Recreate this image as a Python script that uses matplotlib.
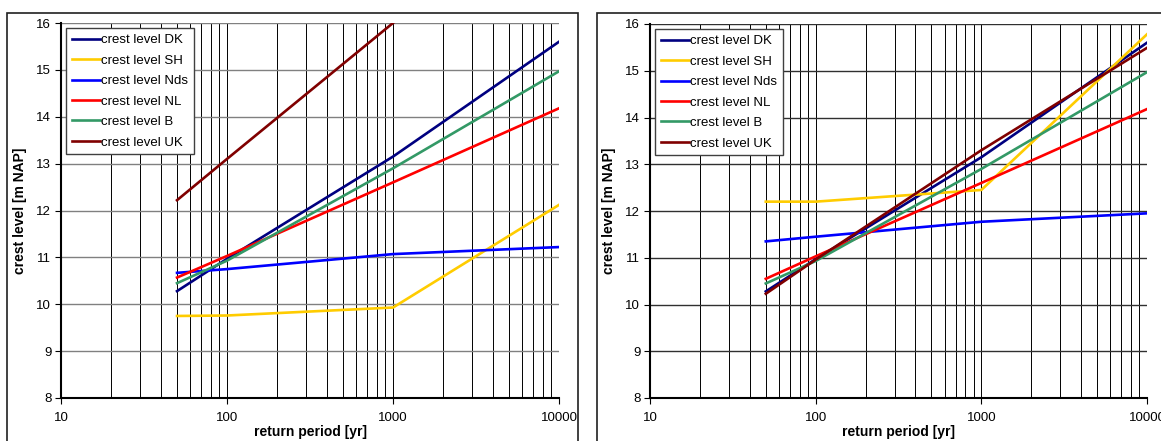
import matplotlib.pyplot as plt
from matplotlib.patches import Rectangle
from matplotlib.ticker import LogLocator, FixedLocator, NullFormatter

plt.rcParams['font.family'] = ['Liberation Sans', 'DejaVu Sans']

# return periods [yr]
periods = [50, 100, 1000, 10000]

# left panel
left_dk = [10.28, 10.97, 13.15, 15.6]
left_sh = [9.75, 9.76, 9.93, 12.12]
left_nds = [10.67, 10.75, 11.07, 11.22]
left_nl = [10.57, 11.03, 12.6, 14.18]
left_b = [10.45, 10.93, 12.9, 14.97]
left_uk = [12.22, 13.1, 16.0, 18.9]

# right panel
right_dk = [10.28, 10.97, 13.15, 15.6]
right_sh = [12.2, 12.2, 12.45, 15.78]
right_nds = [11.35, 11.45, 11.77, 11.95]
right_nl = [10.55, 11.03, 12.6, 14.18]
right_b = [10.45, 10.93, 12.9, 14.97]
right_uk = [10.23, 10.96, 13.3, 15.49]

names = ['crest level DK', 'crest level SH', 'crest level Nds',
         'crest level NL', 'crest level B', 'crest level UK']
colors = ['#000080', '#FFCC00', '#0000FF', '#FF0000', '#339966', '#800000']

fig = plt.figure(figsize=(11.61, 4.41), dpi=100)
W, H = 1161, 441


def panel(rect, series, hgrid_color):
    ax = fig.add_axes(rect)
    for vals, name, c in zip(series, names, colors):
        ax.plot(periods, vals, color=c, lw=1.9, label=name)
    ax.set_xscale('log')
    ax.set_xlim(10, 10000)
    ax.set_ylim(8, 16)
    ax.xaxis.set_major_locator(FixedLocator([10, 100, 1000, 10000]))
    ax.xaxis.set_minor_locator(LogLocator(base=10, subs=range(2, 10)))
    ax.xaxis.set_minor_formatter(NullFormatter())
    ax.set_xticklabels(['10', '100', '1000', '10000'])
    ax.set_yticks(range(8, 17))
    ax.grid(True, axis='x', which='both', color='black', lw=0.7)
    ax.grid(True, axis='y', which='major', color=hgrid_color, lw=1.0)
    ax.tick_params(axis='both', which='major', labelsize=9.5, length=4,
                   width=0.8, direction='out', pad=3)
    ax.tick_params(axis='x', which='minor', length=0)
    ax.tick_params(axis='x', pad=6)
    for s in ['top', 'right']:
        ax.spines[s].set_visible(False)
    for s in ['left', 'bottom']:
        ax.spines[s].set_linewidth(1.5)
    ax.set_axisbelow(True)
    ax.set_xlabel('return period [yr]', fontsize=10, fontweight='bold', labelpad=1)
    ax.set_ylabel('crest level [m NAP]', fontsize=10, fontweight='bold', labelpad=7)
    leg = ax.legend(loc='upper left', fontsize=9.5, handlelength=2.1,
                    handletextpad=0.1, labelspacing=0.62, borderaxespad=0.4,
                    borderpad=0.45, fancybox=False, framealpha=1,
                    edgecolor='#404040')
    leg.get_frame().set_linewidth(1.0)
    return ax


panel([61 / W, 1 - 398 / H, 498 / W, 375 / H],
      [left_dk, left_sh, left_nds, left_nl, left_b, left_uk], '#808080')
panel([650 / W, 1 - 398 / H, 497 / W, 374 / H],
      [right_dk, right_sh, right_nds, right_nl, right_b, right_uk], '#303030')

# outer chart frames
fig.patches.append(Rectangle((7 / W, -0.1), 571 / W, 1.1 - 12.5 / H,
                             transform=fig.transFigure, fill=False,
                             edgecolor='#202020', lw=1.2))
fig.patches.append(Rectangle((597 / W, -0.1), 600 / W, 1.1 - 12.5 / H,
                             transform=fig.transFigure, fill=False,
                             edgecolor='#202020', lw=1.2))

fig.savefig('out.png', dpi=100)
